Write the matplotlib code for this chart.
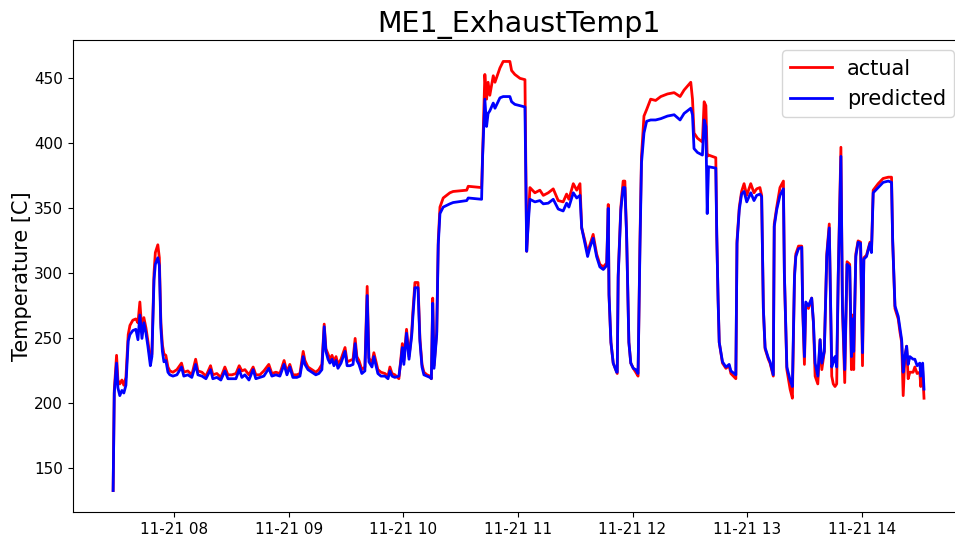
import matplotlib
matplotlib.use("Agg")
import matplotlib.pyplot as plt
import matplotlib.dates as mdates
import pandas as pd

# minutes after 2021-11-21 07:00
minutes = [
    28.1, 28.7, 29.9, 30.6, 31.6, 32.7, 33.7, 34.8, 36.0, 36.9, 38.4, 40.0, 41.1, 42.1, 43.2, 44.2,
    45.3, 46.3, 47.6, 48.4, 49.5, 50.2, 51.5, 52.3, 53.1, 53.9, 54.7, 55.7, 56.8, 57.8,
    59.4, 61.5, 63.9, 65.1, 67.2, 69.3, 71.3, 72.5, 74.6, 76.7, 79.1, 80.3, 82.4, 84.5, 86.6, 88.2,
    90.3, 92.4, 94.1, 95.5, 97.1, 99.2, 101.4, 102.8, 104.9, 107.0, 109.6, 111.2, 113.3, 115.4,
    117.6, 119.1, 120.6, 122.2, 124.3, 125.9, 127.6, 128.5, 130.1, 132.2, 134.2, 135.8, 137.4,
    138.6, 139.5, 140.6, 141.6, 142.7, 143.7, 144.8, 145.8, 147.4, 149.5, 150.6, 152.1, 153.7,
    154.8, 155.7, 156.8, 158.3, 159.9, 161.1, 162.0, 163.6, 164.6, 165.7, 166.7, 168.3, 170.4,
    172.0, 173.0, 174.1, 175.6, 177.7, 178.8, 179.5, 180.3, 181.7, 183.0, 184.4, 185.0, 186.1,
    187.7, 188.7, 189.8, 190.8,
    192.4, 194.0, 194.7, 195.4, 196.1, 197.5, 198.3, 199.2, 200.9, 204.4, 206.1, 213.2, 214.0,
    221.0, 221.5, 222.7, 223.6, 224.4, 225.3, 227.1, 228.0, 230.6, 232.3, 235.8, 236.7, 238.4,
    241.1, 243.7, 244.6, 245.4, 246.3,
    248.9, 251.5, 253.3, 255.9, 258.5, 261.1, 263.7, 265.5, 266.7, 269.0, 270.8, 272.5, 273.4,
    275.1, 276.5, 277.7, 279.4, 281.2, 282.9, 284.7, 286.5, 287.3, 287.7, 288.7, 289.9, 291.7,
    292.0, 292.5, 293.9, 295.1, 296.0, 296.9, 298.1, 299.1, 300.4,
    301.7, 302.9, 303.9, 304.7, 306.0, 307.4, 309.5, 312.1, 314.8, 318.3, 321.8, 324.9, 327.0,
    330.5, 331.4, 332.2, 334.0, 336.6, 337.5, 338.4, 339.1, 339.8, 343.6, 344.1, 344.8, 345.4,
    347.1, 348.9, 350.6, 351.5, 354.1, 354.7, 355.9,
    357.1, 358.4, 359.8, 361.9, 363.6, 365.0, 366.7, 367.6, 368.5, 369.4, 371.1, 372.0, 373.2,
    373.7, 374.2, 375.5, 377.2, 379.0, 379.5, 380.8, 382.5, 383.7, 384.8, 385.5, 386.9, 388.6,
    389.1, 390.0, 390.7, 392.1, 393.8, 394.7, 395.6, 397.0, 398.2, 399.1, 400.4, 401.7, 403.0,
    404.3, 405.1, 406.0, 406.9, 407.7, 409.1,
    409.9, 411.1, 412.3, 413.7, 414.6, 415.1, 415.8, 416.9, 418.1, 419.4, 420.4, 421.1, 422.5,
    424.3, 425.1, 426.0, 428.6, 431.2, 433.9, 435.6, 436.2, 437.4, 439.1, 440.0, 440.9, 441.7,
    442.6, 443.5, 444.3, 445.2, 446.9, 447.8, 449.0, 450.4, 450.9, 451.9, 452.6,
]

actual = [
    133, 210, 237, 218, 215, 218, 214, 220, 253, 260, 264, 265, 262, 278, 255, 266,
    258, 248, 233, 238, 300, 316, 322, 312, 262, 245, 238, 237, 228, 225,
    224, 226, 231, 224, 225, 222, 234, 225, 224, 221, 229, 222, 223, 220, 228, 222,
    222, 223, 229, 225, 226, 222, 228, 222, 222, 225, 230, 223, 224, 223,
    233, 224, 230, 222, 222, 223, 240, 233, 228, 226, 224, 226, 230,
    261, 242, 238, 234, 237, 232, 236, 230, 234, 243, 232, 233, 234,
    250, 236, 233, 226, 228, 290, 235, 231, 239, 232, 226, 224, 223,
    221, 228, 223, 222, 219, 235, 246, 233, 257, 236, 254, 270, 293,
    293, 250, 230, 224,
    222, 221, 219, 281, 229, 255, 325, 351, 358, 362, 363, 364, 367,
    366, 390, 453, 434, 447, 437, 452, 447, 458, 463, 463, 456, 453,
    450, 449, 317, 340, 366,
    362, 364, 360, 362, 365, 356, 355, 361, 357, 369, 364, 369, 335,
    325, 316, 322, 330, 315, 307, 305, 308, 353, 283, 247, 231, 224,
    223, 299, 351, 371, 371, 330, 247, 231, 227,
    224, 221, 325, 390, 421, 426, 434, 433, 436, 438, 439, 436, 441,
    447, 434, 408, 404, 401, 432, 429, 390, 391, 389, 330, 280, 247,
    231, 227, 229, 223, 219, 325, 351,
    363, 369, 360, 369, 362, 365, 366, 360, 273, 242, 234, 231, 224,
    221, 338, 351, 366, 371, 300, 226, 211, 204, 299, 315, 321, 321,
    273, 230, 276, 273, 281, 262, 221, 215, 249, 226, 240, 315, 338,
    221, 215, 213, 215, 299, 397,
    273, 216, 309, 307, 226, 268, 226, 315, 325, 324, 229, 312, 314,
    324, 317, 364, 369, 373, 374, 374, 325, 273, 265, 255, 247, 206,
    236, 244, 219, 224, 224, 228, 223, 224, 213, 225, 204,
]

predicted = [
    133, 208, 231, 212, 206, 210, 208, 214, 248, 253, 256, 257, 249, 268, 250, 262,
    254, 244, 229, 236, 295, 307, 312, 306, 258, 240, 232, 233, 224, 222,
    221, 222, 228, 221, 222, 220, 230, 222, 221, 219, 226, 219, 220, 218, 225, 219,
    219, 219, 226, 220, 222, 218, 226, 219, 220, 221, 227, 221, 222, 221,
    230, 222, 228, 220, 220, 221, 236, 230, 226, 224, 222, 223, 226,
    259, 240, 234, 231, 234, 229, 233, 227, 231, 240, 229, 229, 230,
    246, 233, 230, 223, 225, 283, 232, 228, 236, 229, 223, 221, 221,
    219, 225, 221, 220, 221, 233, 243, 230, 254, 234, 252, 266, 289,
    289, 248, 228, 222,
    221, 220, 219, 277, 227, 253, 322, 346, 351, 353.5, 354.5, 356, 358,
    357, 389, 434, 413, 423, 425, 431, 427, 435, 436, 436, 432, 430,
    429, 428, 317, 338, 357,
    355, 356, 353.5, 354, 357, 349.5, 348, 354, 351, 362, 358, 360, 335,
    323, 313, 320, 327, 313, 305, 303, 306, 350, 284, 247, 231, 224,
    224, 297, 349, 366, 366, 330, 247, 231, 227,
    226, 223, 320, 385, 408, 417, 418, 418, 419, 421, 422, 418, 423,
    427, 422, 396, 393, 391, 418, 413, 346, 382, 381, 330, 280, 247,
    232, 228, 230, 225, 222, 323, 349,
    361, 363, 355, 362, 356, 360, 361, 359, 273, 243, 235, 232, 225,
    222, 336, 349, 360, 365, 300, 228, 218, 213, 297, 313, 319, 320,
    273, 236, 278, 275, 281, 263, 231, 221, 249, 231, 240, 313, 335,
    228, 232, 236, 228, 297, 390,
    275, 226, 307, 305, 236, 265, 240, 313, 324, 323, 239, 311, 313,
    323, 316, 362, 366, 370, 371, 370, 325, 275, 267, 258, 249, 224,
    236, 244, 230, 236, 234, 234, 229, 231, 221, 231, 211,
]

title = "ME1_ExhaustTemp1"
ylabel = "Temperature [C]"
series_labels = ["actual", "predicted"]

t0 = pd.Timestamp("2021-11-21 07:00")
times = [t0 + pd.Timedelta(minutes=m) for m in minutes]

fig = plt.figure(figsize=(9.55, 5.39), dpi=100)
ax = fig.add_axes([0.0760, 0.0501, 0.934, 0.8757])
ax.plot(times, actual, color="red", lw=2, label=series_labels[0])
ax.plot(times, predicted, color="blue", lw=2, label=series_labels[1])
ax.set_title(title, fontsize=20.5)
ax.set_ylabel(ylabel, fontsize=15, labelpad=1)
ax.xaxis.set_major_locator(mdates.HourLocator())
ax.xaxis.set_major_formatter(mdates.DateFormatter("%m-%d %H"))
ax.tick_params(labelsize=11)
ax.legend(loc="upper right", fontsize=15, handletextpad=0.7)
fig.savefig("out.png", dpi=100)
